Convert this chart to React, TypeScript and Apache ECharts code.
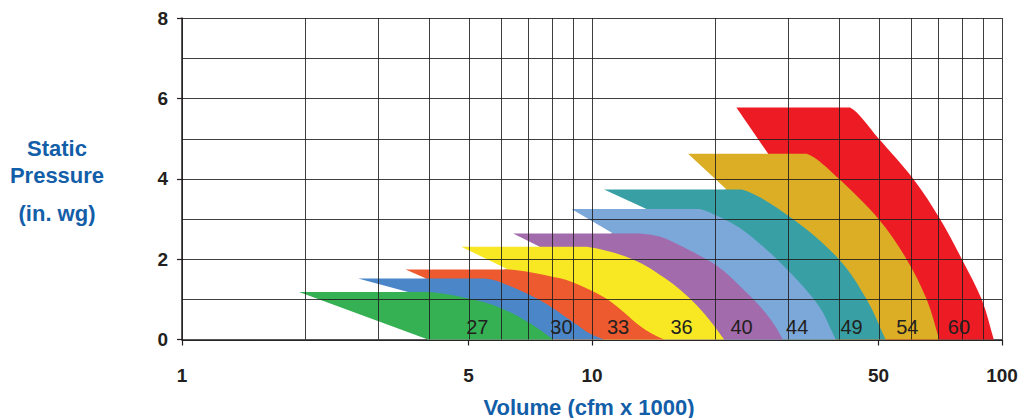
import React, { useEffect, useRef } from "react";
import * as echarts from "echarts";

// ---- axis values ----
const xTickLabels = [1, 5, 10, 50, 100];
const xGridValues = [1, 2, 3, 4, 5, 6, 7, 8, 9, 10, 20, 30, 40, 50, 60, 70, 80, 90, 100];
const yGridValues = [0, 1, 2, 3, 4, 5, 6, 7, 8];
const xMin = 1;
const xMax = 100;
const yMin = 0;
const yMax = 8;

// ---- fan sizes (smallest first) ----
const fanSizes = ["27", "30", "33", "36", "40", "44", "49", "54", "60"];
const fanColors = ["#35b153", "#4a86c8", "#ee5a2f", "#f8e823", "#a26bab", "#7ba7d9", "#38a0a5", "#dbae26", "#ed1c24"];

// top-left tip of each operating region [cfm x 1000, in. wg]
const tip27 = [1.93, 1.18];
const tip30 = [2.69, 1.52];
const tip33 = [3.51, 1.74];
const tip36 = [4.8, 2.31];
const tip40 = [6.42, 2.64];
const tip44 = [8.91, 3.25];
const tip49 = [10.7, 3.73];
const tip54 = [17.15, 4.62];
const tip60 = [22.5, 5.77];

// where the left edge meets the next smaller region's top
const join30 = [3.56, 1.18];
const join33 = [3.94, 1.52];
const join36 = [6.24, 1.74];
const join40 = [7.46, 2.31];
const join44 = [11.26, 2.64];
const join49 = [13.58, 3.25];
const join54 = [21.3, 3.73];
const join60 = [26.9, 4.62];

// left foot of the smallest region on the volume axis
const baseFoot = [3.98, 0];

// end of the flat top and outer curve down to zero pressure
const curve27 = [[4.0, 1.18], [5.1, 1.0], [6.0, 0.78], [7.0, 0.43], [7.95, 0.04], [8.05, 0]];
const curve30 = [[5.47, 1.52], [6.0, 1.42], [7.4, 1.0], [9.0, 0.43], [9.8, 0.17], [10.7, 0]];
const curve33 = [[6.3, 1.74], [7.95, 1.57], [9.0, 1.42], [10.9, 1.0], [13.0, 0.36], [14.2, 0.11], [15.0, 0]];
const curve36 = [[9.7, 2.31], [12.55, 2.0], [15.2, 1.5], [17.4, 1.0], [19.3, 0.5], [21.0, 0]];
const curve40 = [[13.08, 2.64], [14.6, 2.56], [16.3, 2.35], [20.0, 1.86], [23.0, 1.32], [25.7, 0.82], [27.7, 0.4], [29.2, 0]];
const curve44 = [[18.3, 3.25], [20.0, 3.1], [23.0, 2.77], [26.7, 2.23], [30.0, 1.73], [33.3, 1.23], [36.3, 0.73], [38.3, 0.24], [39.3, 0]];
const curve49 = [[23.2, 3.73], [30.9, 3.0], [40.0, 2.0], [46.75, 1.0], [52.0, 0]];
const curve54 = [[33.4, 4.62], [40.0, 4.0], [50.0, 3.0], [58.5, 2.0], [65.5, 1.0], [70.3, 0]];
const curve60 = [[42.6, 5.77], [50.0, 5.0], [60.7, 4.0], [70.6, 3.0], [79.8, 2.0], [89.2, 1.0], [95.5, 0]];

// size labels
const labelX = [5.25, 8.42, 11.58, 16.54, 23.16, 31.65, 42.97, 58.74, 78.5];
const labelY = 0.32;

const tips = [tip27, tip30, tip33, tip36, tip40, tip44, tip49, tip54, tip60];
const joins = [null, join30, join33, join36, join40, join44, join49, join54, join60];
const curves = [curve27, curve30, curve33, curve36, curve40, curve44, curve49, curve54, curve60];

const FONT = "'Liberation Sans', Arial, Helvetica, sans-serif";
const TITLE_BLUE = "#135ea8";
const INK = "#231f20";

function f(p: number[]) {
  return `${p[0].toFixed(2)} ${p[1].toFixed(2)}`;
}

// outline of band i in pixels (Catmull-Rom bezier through the read curve points)
function bandPath(i: number, coord: (p: number[]) => number[]): string {
  const t = coord(tips[i]);
  const c = curves[i].map(coord);
  let d = `M${f(t)} L${f(c[0])}`;
  const n = c.length;
  for (let k = 0; k < n - 1; k++) {
    const p1 = c[k];
    const p2 = c[k + 1];
    const p0 = k === 0 ? [p1[0] - (p2[0] - p1[0]), p1[1]] : c[k - 1];
    const p3 = k + 2 < n ? c[k + 2] : [2 * p2[0] - p1[0], 2 * p2[1] - p1[1]];
    const cp1 = [p1[0] + (p2[0] - p0[0]) / 6, p1[1] + (p2[1] - p0[1]) / 6];
    const cp2 = [p2[0] - (p3[0] - p1[0]) / 6, p2[1] - (p3[1] - p1[1]) / 6];
    d += ` C${f(cp1)} ${f(cp2)} ${f(p2)}`;
  }
  d += ` L${f(coord(baseFoot))}`;
  for (let k = 1; k <= i; k++) {
    d += ` L${f(coord(joins[k] as number[]))}`;
  }
  d += " Z";
  return d;
}

export default function App() {
  const ref = useRef<HTMLDivElement>(null);

  useEffect(() => {
    if (!ref.current) return;
    const chart = echarts.init(ref.current, undefined, { renderer: "svg" });

    const bandSeries: any[] = [];
    for (let i = fanSizes.length - 1; i >= 0; i--) {
      const color = fanColors[i];
      const idx = i;
      bandSeries.push({
        type: "custom",
        name: fanSizes[i],
        silent: true,
        data: [tips[i], ...curves[i]],
        renderItem: (params: any, api: any) => {
          if (params.dataIndex !== 0) return null;
          const pathData = bandPath(idx, (p) => api.coord(p));
          return { type: "path", shape: { pathData }, style: { fill: color } };
        },
      });
    }

    const gridStroke = "rgba(30,28,28,0.85)";
    const vGrid = {
      type: "custom",
      silent: true,
      data: xGridValues.map((v) => [v, yMin]),
      renderItem: (params: any, api: any) => {
        const v = api.value(0);
        const a = api.coord([v, yMin]);
        const b = api.coord([v, yMax]);
        const x = Math.round(a[0]) + 0.5;
        return {
          type: "line",
          shape: { x1: x, y1: a[1], x2: x, y2: b[1] },
          style: { stroke: gridStroke, lineWidth: 1 },
        };
      },
    };
    const hGrid = {
      type: "custom",
      silent: true,
      data: yGridValues.map((v) => [xMin, v]),
      renderItem: (params: any, api: any) => {
        const v = api.value(1);
        const a = api.coord([xMin, v]);
        const b = api.coord([xMax, v]);
        const y = Math.round(a[1]) + 0.5;
        return {
          type: "line",
          shape: { x1: a[0], y1: y, x2: b[0], y2: y },
          style: { stroke: gridStroke, lineWidth: 1 },
        };
      },
    };
    const labels = {
      type: "custom",
      silent: true,
      data: labelX.map((x) => [x, labelY]),
      renderItem: (params: any, api: any) => {
        const p = api.coord([api.value(0), api.value(1)]);
        return {
          type: "text",
          x: p[0],
          y: p[1],
          style: {
            text: fanSizes[params.dataIndex],
            fill: INK,
            font: `20px ${FONT}`,
            align: "center",
            verticalAlign: "middle",
          },
        };
      },
    };

    chart.setOption({
      animation: false,
      backgroundColor: "#ffffff",
      grid: { left: 182, right: 31, top: 18, bottom: 78.5, containLabel: false },
      xAxis: {
        type: "log",
        logBase: 10,
        min: xMin,
        max: xMax,
        splitLine: { show: false },
        minorTick: { show: false },
        axisLine: { show: true, lineStyle: { color: INK, width: 1.5 } },
        axisTick: { show: true, customValues: xTickLabels, length: 6, lineStyle: { color: INK, width: 1.2 } },
        axisLabel: {
          customValues: xTickLabels,
          fontFamily: FONT,
          fontSize: 19,
          fontWeight: "bold",
          color: INK,
          margin: 26,
        },
      },
      yAxis: {
        type: "value",
        min: yMin,
        max: yMax,
        interval: 2,
        splitLine: { show: false },
        axisLine: { show: true, lineStyle: { color: INK, width: 1.5 } },
        axisTick: { show: true, length: 5, lineStyle: { color: INK, width: 1.2 } },
        axisLabel: { fontFamily: FONT, fontSize: 19, fontWeight: "bold", color: INK, margin: 14 },
      },
      graphic: [
        { type: "text", x: 57, y: 148, style: { text: "Static", fill: TITLE_BLUE, font: `bold 22px ${FONT}`, align: "center", verticalAlign: "middle" } },
        { type: "text", x: 57, y: 175, style: { text: "Pressure", fill: TITLE_BLUE, font: `bold 22px ${FONT}`, align: "center", verticalAlign: "middle" } },
        { type: "text", x: 57, y: 213, style: { text: "(in. wg)", fill: TITLE_BLUE, font: `bold 22px ${FONT}`, align: "center", verticalAlign: "middle" } },
        { type: "text", x: 589, y: 407, style: { text: "Volume (cfm x 1000)", fill: TITLE_BLUE, font: `bold 22px ${FONT}`, align: "center", verticalAlign: "middle" } },
      ],
      series: [...bandSeries, vGrid, hGrid, labels],
    });

    return () => chart.dispose();
  }, []);

  return (
    <div
      ref={ref}
      style={{ position: "fixed", left: 0, top: 0, width: 1033, height: 418, background: "#fff" }}
    />
  );
}
